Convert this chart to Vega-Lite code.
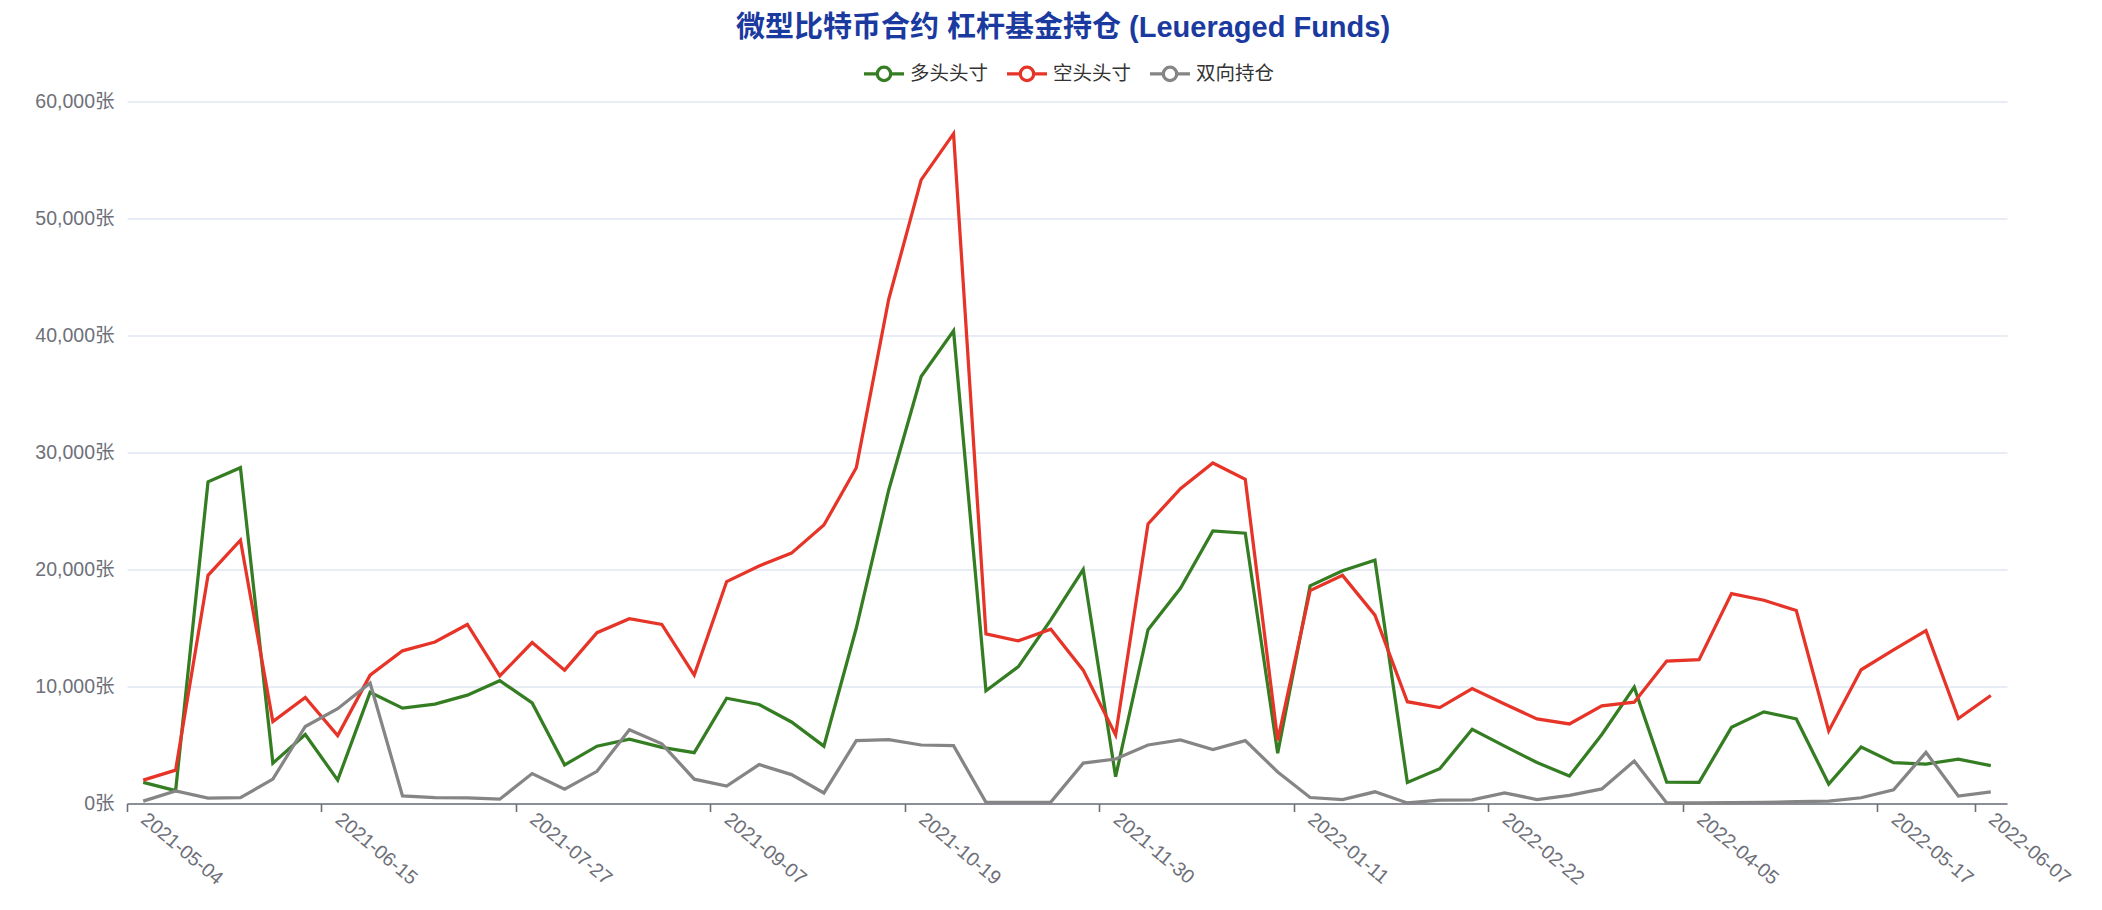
{
  "$schema": "https://vega.github.io/schema/vega-lite/v6.json",
  "width": 1880,
  "height": 702,
  "autosize": {"type": "none"},
  "padding": {"left": 127, "top": 101.5, "right": 95, "bottom": 106.5},
  "background": "#ffffff",
  "config": {"view": {"stroke": null}, "font": "Liberation Sans, Noto Sans CJK SC, sans-serif"},
  "title": {"text": "微型比特币合约 杠杆基金持仓 (Leueraged Funds)", "anchor": "middle", "frame": "group", "fontSize": 29, "fontWeight": "bold", "color": "#1a3a9f", "font": "Liberation Sans, Noto Sans CJK SC, sans-serif", "offset": 9, "dx": -4},
  "datasets": {
    "wide": [
      {"date":"2021-05-04","g":1800,"r":2000,"h":200},
      {"date":"2021-05-11","g":1100,"r":2850,"h":1080},
      {"date":"2021-05-18","g":27500,"r":19500,"h":460},
      {"date":"2021-05-25","g":28700,"r":22500,"h":500},
      {"date":"2021-06-01","g":3450,"r":7000,"h":2080},
      {"date":"2021-06-08","g":5900,"r":9060,"h":6580},
      {"date":"2021-06-15","g":2000,"r":5800,"h":8100},
      {"date":"2021-06-22","g":9500,"r":10970,"h":10300},
      {"date":"2021-06-29","g":8150,"r":13050,"h":650},
      {"date":"2021-07-06","g":8500,"r":13800,"h":500},
      {"date":"2021-07-13","g":9260,"r":15300,"h":480},
      {"date":"2021-07-20","g":10500,"r":10900,"h":370},
      {"date":"2021-07-27","g":8600,"r":13760,"h":2560},
      {"date":"2021-08-03","g":3300,"r":11400,"h":1220},
      {"date":"2021-08-10","g":4900,"r":14600,"h":2750},
      {"date":"2021-08-17","g":5500,"r":15800,"h":6300},
      {"date":"2021-08-24","g":4800,"r":15300,"h":5100},
      {"date":"2021-08-31","g":4350,"r":10970,"h":2080},
      {"date":"2021-09-07","g":9000,"r":18970,"h":1490},
      {"date":"2021-09-14","g":8460,"r":20300,"h":3330},
      {"date":"2021-09-21","g":6970,"r":21400,"h":2470},
      {"date":"2021-09-28","g":4900,"r":23800,"h":900},
      {"date":"2021-10-05","g":15000,"r":28700,"h":5370},
      {"date":"2021-10-12","g":26800,"r":43100,"h":5450},
      {"date":"2021-10-19","g":36500,"r":53300,"h":5000},
      {"date":"2021-10-26","g":40400,"r":57250,"h":4940},
      {"date":"2021-11-02","g":9640,"r":14500,"h":100},
      {"date":"2021-11-09","g":11700,"r":13900,"h":100},
      {"date":"2021-11-16","g":15700,"r":14900,"h":120},
      {"date":"2021-11-23","g":20000,"r":11400,"h":3450},
      {"date":"2021-11-30","g":2290,"r":5860,"h":3800},
      {"date":"2021-12-07","g":14860,"r":23900,"h":5000},
      {"date":"2021-12-14","g":18400,"r":26900,"h":5430},
      {"date":"2021-12-21","g":23300,"r":29100,"h":4600},
      {"date":"2021-12-28","g":23100,"r":27700,"h":5370},
      {"date":"2022-01-04","g":4300,"r":5400,"h":2700},
      {"date":"2022-01-11","g":18600,"r":18200,"h":510},
      {"date":"2022-01-18","g":19900,"r":19500,"h":340},
      {"date":"2022-01-25","g":20800,"r":16100,"h":1000},
      {"date":"2022-02-01","g":1800,"r":8700,"h":50},
      {"date":"2022-02-08","g":2970,"r":8200,"h":290},
      {"date":"2022-02-15","g":6340,"r":9830,"h":310},
      {"date":"2022-02-22","g":4900,"r":8500,"h":910},
      {"date":"2022-03-01","g":3500,"r":7230,"h":340},
      {"date":"2022-03-08","g":2340,"r":6800,"h":690},
      {"date":"2022-03-15","g":5900,"r":8350,"h":1250},
      {"date":"2022-03-22","g":9940,"r":8660,"h":3630},
      {"date":"2022-03-29","g":1830,"r":12170,"h":50},
      {"date":"2022-04-05","g":1800,"r":12290,"h":50},
      {"date":"2022-04-12","g":6510,"r":17940,"h":80},
      {"date":"2022-04-19","g":7830,"r":17370,"h":100},
      {"date":"2022-04-26","g":7230,"r":16490,"h":150},
      {"date":"2022-05-03","g":1660,"r":6200,"h":200},
      {"date":"2022-05-10","g":4830,"r":11430,"h":490},
      {"date":"2022-05-17","g":3490,"r":13140,"h":1170},
      {"date":"2022-05-24","g":3370,"r":14770,"h":4370},
      {"date":"2022-05-31","g":3800,"r":7260,"h":630},
      {"date":"2022-06-07","g":3230,"r":9230,"h":1000}
    ]
  },
  "data": {"name": "wide"},
  "transform": [
    {"fold": ["g", "r", "h"], "as": ["key", "value"]},
    {"lookup": "key", "from": {"data": {"values": [{"key": "g", "series": "多头头寸"}, {"key": "r", "series": "空头头寸"}, {"key": "h", "series": "双向持仓"}]}, "key": "key", "fields": ["series"]}}
  ],
  "mark": {"type": "line", "strokeWidth": 3.25},
  "encoding": {
    "x": {
      "field": "date", "type": "ordinal",
      "scale": {"type": "point", "padding": 0.5},
      "axis": {
        "title": null,
        "values": ["2021-05-04","2021-06-15","2021-07-27","2021-09-07","2021-10-19","2021-11-30","2022-01-11","2022-02-22","2022-04-05","2022-05-17","2022-06-07"],
        "labelAngle": 40, "labelAlign": "left", "labelBaseline": "middle",
        "tickOffset": -16.207, "labelOffset": 16.207,
        "tickSize": 8, "tickColor": "#6E7079", "tickWidth": 1.6,
        "domainColor": "#6E7079", "domainWidth": 1.6,
        "labelPadding": 5, "labelFontSize": 19.5, "labelColor": "#6E7079",
        "labelFont": "Liberation Sans, Noto Sans CJK SC, sans-serif",
        "grid": false, "labelOverlap": false, "labelBound": false, "labelFlush": false
      }
    },
    "y": {
      "field": "value", "type": "quantitative",
      "scale": {"domain": [0, 60000], "nice": false, "zero": true},
      "axis": {
        "title": null,
        "values": [0, 10000, 20000, 30000, 40000, 50000, 60000],
        "labelExpr": "format(datum.value, ',') + '张'",
        "domain": false, "ticks": false,
        "grid": true, "gridColor": "#E0E6F1", "gridWidth": 1.6,
        "labelPadding": 13, "labelFontSize": 19.5, "labelColor": "#6E7079",
        "labelFont": "Liberation Sans, Noto Sans CJK SC, sans-serif"
      }
    },
    "color": {
      "field": "series", "type": "nominal",
      "scale": {"domain": ["多头头寸", "空头头寸", "双向持仓"], "range": ["#357d22", "#e73428", "#858585"]},
      "legend": {
        "orient": "none", "legendX": 735, "legendY": -50, "direction": "horizontal",
        "title": null,
        "symbolType": "M-1,0L-0.335,0M0.335,0A0.335,0.335,0,1,1,-0.335,0A0.335,0.335,0,1,1,0.335,0M0.335,0L1,0",
        "symbolSize": 1600, "symbolStrokeWidth": 3.25, "symbolFillColor": "#ffffff",
        "labelFontSize": 19.5, "labelColor": "#333333", "labelOffset": 4,
        "columnPadding": 11,
        "labelFont": "Liberation Sans, Noto Sans CJK SC, sans-serif"
      }
    }
  }
}
